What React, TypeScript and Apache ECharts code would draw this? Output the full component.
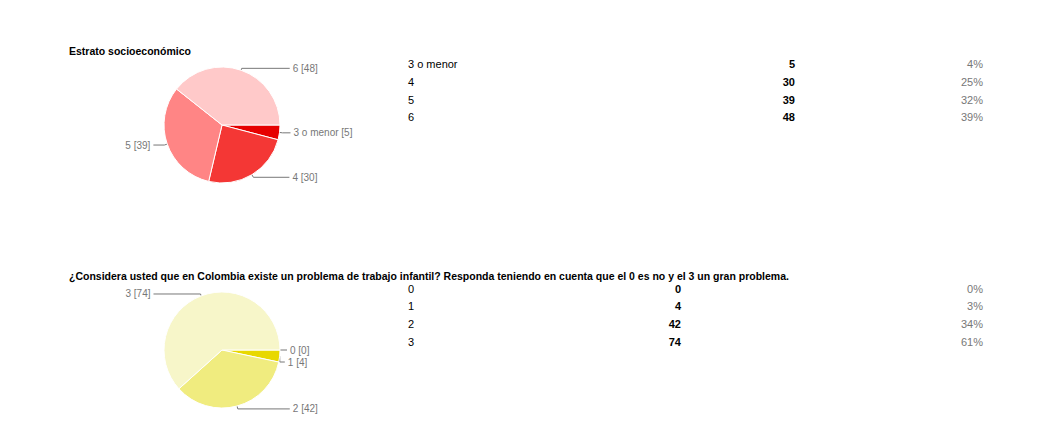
import React, { useEffect, useRef } from "react";
import * as echarts from "echarts";

// Estrato socioeconómico
const estratoCategories = ["3 o menor", "4", "5", "6"];
const estratoCounts = [5, 30, 39, 48];
const estratoPercents = ["4%", "25%", "32%", "39%"];

// Trabajo infantil
const trabajoCategories = ["0", "1", "2", "3"];
const trabajoCounts = [0, 4, 42, 74];
const trabajoPercents = ["0%", "3%", "34%", "61%"];

const estratoTitle = "Estrato socioeconómico";
const trabajoTitle =
  "¿Considera usted que en Colombia existe un problema de trabajo infantil? Responda teniendo en cuenta que el 0 es no y el 3 un gran problema.";

const estratoColors = ["#e60000", "#f43735", "#ff8585", "#ffc9c9"];
const trabajoColors = ["#e8d800", "#e8d800", "#f0ec7f", "#f7f6c9"];

// leader line [length, length2] per slice
const estratoLeaders = [
  [3, 8],
  [3, 36],
  [3, 11],
  [2, 48],
];
const trabajoLeaders = [
  [3, 7],
  [4, 5],
  [3, 52],
  [2, 47],
];

const FONT = "Arial, 'Liberation Sans', sans-serif";

const tableRows = (
  cats: string[],
  counts: number[],
  pcts: string[],
  top: number,
  countX: number
) =>
  cats.flatMap((c, i) => {
    const y = top + i * 17.8;
    return [
      {
        type: "text",
        x: 408,
        y,
        style: { text: c, fill: "#000", font: `11px ${FONT}`, verticalAlign: "middle" },
      },
      {
        type: "text",
        x: countX,
        y,
        style: {
          text: String(counts[i]),
          fill: "#000",
          font: `bold 11px ${FONT}`,
          align: "right",
          verticalAlign: "middle",
        },
      },
      {
        type: "text",
        x: 983,
        y,
        style: {
          text: pcts[i],
          fill: "#777",
          font: `11px ${FONT}`,
          align: "right",
          verticalAlign: "middle",
        },
      },
    ];
  });

const pieSeries = (
  cats: string[],
  counts: number[],
  colors: string[],
  leaders: number[][],
  cy: number
) => ({
  type: "pie",
  center: [222, cy],
  radius: 58,
  startAngle: 0,
  clockwise: true,
  avoidLabelOverlap: true,
  itemStyle: { borderColor: "#fff", borderWidth: 1 },
  label: {
    show: true,
    formatter: "{b} [{c}]",
    color: "#777",
    fontSize: 10,
    fontFamily: FONT,
    distanceToLabelLine: 3,
  },
  labelLine: { show: true, lineStyle: { color: "#777", width: 1 } },
  emphasis: { disabled: true },
  data: cats.map((c, i) => ({
    name: c,
    value: counts[i],
    itemStyle: { color: colors[i] },
    labelLine: { length: leaders[i][0], length2: leaders[i][1] },
  })),
});

const titleStyle = { fontSize: 10.5, fontWeight: "bold", color: "#000", fontFamily: FONT };

const App = () => {
  const chartRef = useRef<HTMLDivElement>(null);

  useEffect(() => {
    if (!chartRef.current) return;
    const chart = echarts.init(chartRef.current, null, { renderer: "svg" });
    chart.setOption({
      animation: false,
      title: [
        { text: estratoTitle, left: 69, top: 45, padding: 0, textStyle: titleStyle },
        { text: trabajoTitle, left: 69, top: 270, padding: 0, textStyle: titleStyle },
      ],
      series: [
        pieSeries(estratoCategories, estratoCounts, estratoColors, estratoLeaders, 125),
        pieSeries(trabajoCategories, trabajoCounts, trabajoColors, trabajoLeaders, 350),
      ],
      graphic: [
        ...tableRows(estratoCategories, estratoCounts, estratoPercents, 64, 795),
        ...tableRows(trabajoCategories, trabajoCounts, trabajoPercents, 288.5, 681),
      ],
    });
    return () => {
      chart.dispose();
    };
  }, []);

  return (
    <div
      ref={chartRef}
      style={{
        position: "fixed",
        left: 0,
        top: 0,
        width: "1039px",
        height: "435px",
        background: "#fff",
      }}
    />
  );
};

export default App;
